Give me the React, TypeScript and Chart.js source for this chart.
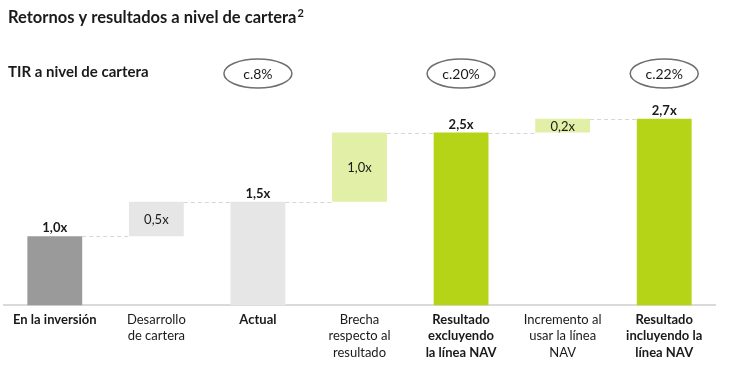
import React, { useEffect, useRef } from "react";
import { Chart, registerables } from "chart.js";

Chart.register(...registerables);

const categories: string[][] = [
  ["En la inversión"],
  ["Desarrollo", "de cartera"],
  ["Actual"],
  ["Brecha", "respecto al", "resultado"],
  ["Resultado", "excluyendo", "la línea NAV"],
  ["Incremento al", "usar la línea", "NAV"],
  ["Resultado", "incluyendo la", "línea NAV"],
];
const barStart = [0, 1.0, 0, 1.5, 0, 2.5, 0];
const barEnd = [1.0, 1.5, 1.5, 2.5, 2.5, 2.7, 2.7];
const valueLabels = ["1,0x", "0,5x", "1,5x", "1,0x", "2,5x", "0,2x", "2,7x"];
const isTotal = [true, false, true, false, true, false, true];
const irrLabels = ["", "", "c.8%", "", "c.20%", "", "c.22%"];
const barColors = ["#9a9a9a", "#e6e6e6", "#e6e6e6", "#e2efa6", "#b5d417", "#e2efa6", "#b5d417"];

const FONT = "Lato, 'Open Sans', sans-serif";

const overlayPlugin = {
  id: "overlay",
  afterDatasetsDraw(chart: any) {
    const ctx = chart.ctx;
    const x = chart.scales.x;
    const y = chart.scales.y;
    const meta = chart.getDatasetMeta(0);
    ctx.save();
    // connectors
    ctx.strokeStyle = "#d6d6d6";
    ctx.lineWidth = 1.2;
    ctx.setLineDash([4, 3]);
    for (let i = 0; i < barEnd.length - 1; i++) {
      const b = meta.data[i];
      const n = meta.data[i + 1];
      const py = Math.round(y.getPixelForValue(barEnd[i])) + 0.5;
      ctx.beginPath();
      ctx.moveTo(b.x + b.width / 2, py);
      ctx.lineTo(n.x - n.width / 2, py);
      ctx.stroke();
    }
    ctx.setLineDash([]);
    // value labels
    ctx.fillStyle = "#1a1a1a";
    ctx.textAlign = "center";
    for (let i = 0; i < valueLabels.length; i++) {
      const cx = x.getPixelForValue(i);
      if (isTotal[i]) {
        ctx.font = `bold 13px ${FONT}`;
        ctx.textBaseline = "alphabetic";
        ctx.fillText(valueLabels[i], cx, y.getPixelForValue(barEnd[i]) - 4);
      } else {
        ctx.font = `13px ${FONT}`;
        ctx.textBaseline = "middle";
        const cy = (y.getPixelForValue(barStart[i]) + y.getPixelForValue(barEnd[i])) / 2;
        ctx.fillText(valueLabels[i], cx, cy + 1);
      }
    }
    // title
    ctx.textAlign = "left";
    ctx.textBaseline = "alphabetic";
    ctx.font = `bold 16.5px ${FONT}`;
    const title = "Retornos y resultados a nivel de cartera";
    ctx.fillText(title, 8, 23);
    const tw = ctx.measureText(title).width;
    ctx.font = `bold 11px ${FONT}`;
    ctx.fillText("2", 8 + tw + 1, 17);
    ctx.font = `bold 15px ${FONT}`;
    ctx.fillText("TIR a nivel de cartera", 8, 77);
    // IRR ellipses
    for (let i = 0; i < irrLabels.length; i++) {
      if (!irrLabels[i]) continue;
      const cx = x.getPixelForValue(i);
      const cy = 73.5;
      ctx.beginPath();
      ctx.ellipse(cx, cy, 34, 14.5, 0, 0, Math.PI * 2);
      ctx.strokeStyle = "#6e6e6e";
      ctx.lineWidth = 1.5;
      ctx.stroke();
      ctx.font = `14px ${FONT}`;
      ctx.textAlign = "center";
      ctx.textBaseline = "middle";
      ctx.fillStyle = "#1a1a1a";
      ctx.fillText(irrLabels[i], cx, cy + 1);
    }
    ctx.restore();
  },
};

export default function App() {
  const ref = useRef<HTMLCanvasElement>(null);
  useEffect(() => {
    if (!ref.current) return;
    const chart = new Chart(ref.current, {
      type: "bar",
      data: {
        labels: categories,
        datasets: [
          {
            data: barStart.map((s, i) => [s, barEnd[i]]) as any,
            backgroundColor: barColors,
            borderWidth: 0,
            barPercentage: 0.54,
            categoryPercentage: 1,
          },
        ],
      },
      options: {
        animation: false,
        responsive: true,
        maintainAspectRatio: false,
        layout: { padding: { left: 4, right: 21, top: 98, bottom: 0 } },
        plugins: { legend: { display: false }, tooltip: { enabled: false } },
        scales: {
          x: {
            grid: { display: false, drawTicks: false },
            border: { display: true, color: "#dadada", width: 2 },
            ticks: {
              padding: 6,
              color: "#1a1a1a",
              maxRotation: 0,
              autoSkip: false,
              font: (c: any) => ({
                family: FONT,
                size: 13,
                lineHeight: 1.27,
                weight: isTotal[c.index] ? "bold" : "normal",
              }),
            },
          },
          y: { display: false, min: 0, max: 3.0 },
        },
      },
      plugins: [overlayPlugin],
    });
    return () => chart.destroy();
  }, []);
  return (
    <div style={{ position: "fixed", left: 0, top: 0, width: 736, height: 367, background: "#fff" }}>
      <canvas ref={ref} />
    </div>
  );
}
